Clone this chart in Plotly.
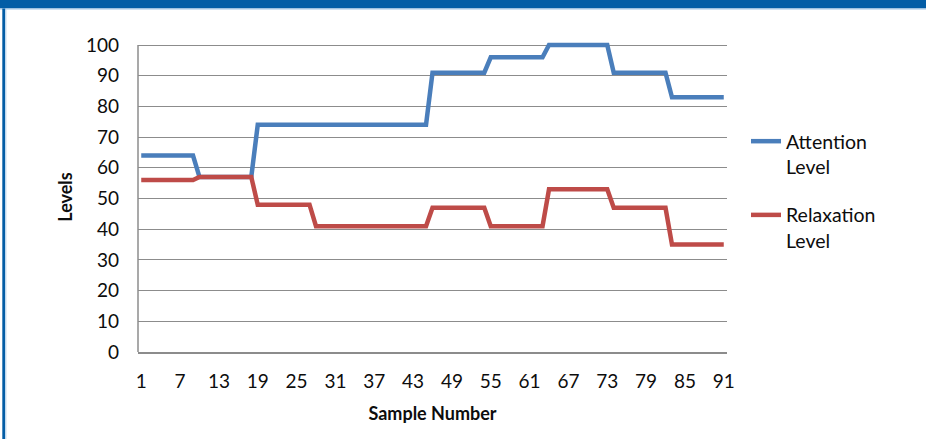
import plotly.graph_objects as go

# Sample index and the two measured series
samples = list(range(1, 92))
attention = [64] * 9 + [57] * 9 + [74] * 27 + [91] * 9 + [96] * 9 + [100] * 10 + [91] * 9 + [83] * 9
relaxation = [56] * 9 + [57] * 9 + [48] * 9 + [41] * 18 + [47] * 9 + [41] * 9 + [53] * 10 + [47] * 9 + [35] * 9
x_ticks = list(range(1, 92, 6))
y_ticks = list(range(0, 101, 10))

W, H = 926, 439
L, R, T, B = 138, 199, 42, 87
PW, PH = W - L - R, H - T - B

FONT = "Lato"
BLUE = "#4A7EBB"
RED = "#BE4B48"
GRID = "#8C8C8C"
FRAME = "#035DA6"
TEXT = "#0D0D0D"


def px_x(p):
    return (p - L) / PW


def px_y(p):
    return (H - B - p) / PH


fig = go.Figure()
fig.add_trace(go.Scatter(x=samples, y=attention, mode="lines", name="Attention<br>Level",
                         legendgroup="a", line=dict(color=BLUE, width=4.5)))
fig.add_trace(go.Scatter(x=samples, y=relaxation, mode="lines", name="Relaxation<br>Level",
                         legendgroup="r", line=dict(color=RED, width=4.5)))

shapes = [
    # left value-axis line
    dict(type="line", xref="paper", yref="y", x0=0, x1=0, y0=0, y1=100,
         line=dict(color=GRID, width=1.5)),
    # outer frame: top band and left rule
    dict(type="rect", xref="paper", yref="paper", x0=px_x(0), x1=px_x(W), y0=px_y(8.5), y1=px_y(0),
         fillcolor=FRAME, line=dict(width=0), layer="above"),
    dict(type="rect", xref="paper", yref="paper", x0=px_x(0), x1=px_x(W), y0=px_y(9.8), y1=px_y(8.5),
         fillcolor="#BCD6EE", line=dict(width=0), layer="above"),
    dict(type="rect", xref="paper", yref="paper", x0=px_x(2.3), x1=px_x(5.2), y0=px_y(H), y1=px_y(8.5),
         fillcolor=FRAME, line=dict(width=0), layer="above"),
    dict(type="rect", xref="paper", yref="paper", x0=px_x(5.2), x1=px_x(6.4), y0=px_y(H), y1=px_y(9.8),
         fillcolor="#BCD6EE", line=dict(width=0), layer="above"),
]

fig.update_layout(
    width=W, height=H,
    margin=dict(l=L, r=R, t=T, b=B, autoexpand=False),
    paper_bgcolor="white", plot_bgcolor="white",
    font=dict(family=FONT, size=19, color=TEXT),
    shapes=shapes,
    showlegend=True,
    legend=dict(
        xref="container", yref="container", x=746 / W, y=1 - 122 / H,
        xanchor="left", yanchor="top", valign="top",
        tracegroupgap=20, font=dict(family=FONT, size=19.5, color=TEXT),
        bgcolor="rgba(0,0,0,0)",
    ),
    xaxis=dict(
        range=[0.5, 91.5], tickmode="array", tickvals=x_ticks, ticktext=[str(v) for v in x_ticks],
        showgrid=False, zeroline=False, showline=True, linecolor=GRID, linewidth=1.5,
        ticks="", ticklabelstandoff=11,
        title=dict(text="<b>Sample Number</b>", font=dict(family=FONT, size=18, color=TEXT), standoff=17),
    ),
    yaxis=dict(
        range=[0, 101], tickmode="array", tickvals=y_ticks,
        showgrid=True, gridcolor=GRID, gridwidth=1.3, zeroline=False, showline=False,
        ticks="", ticklabelstandoff=18,
        title=dict(text="<b>Levels</b>", font=dict(family=FONT, size=18, color=TEXT), standoff=8),
    ),
)

fig.write_html("out.html")
